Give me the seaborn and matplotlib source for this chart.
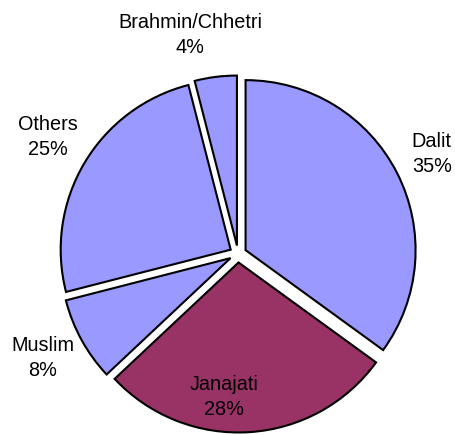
import matplotlib as mpl
mpl.use('Agg')
import matplotlib.pyplot as plt
import seaborn as sns

sns.set_style('white')
plt.rcParams['font.family'] = ['Liberation Sans', 'DejaVu Sans']

groups = ['Dalit', 'Janajati', 'Muslim', 'Others', 'Brahmin/Chhetri']
shares = [35, 28, 8, 25, 4]
colors = ['#9999FF', '#993366', '#9999FF', '#9999FF', '#9999FF']

# label centres, in pie units (radius = 1)
label_xy = [(1.14, 0.59), (-0.08, -0.84), (-1.15, -0.61), (-1.12, 0.69), (-0.28, 1.29)]

fig = plt.figure(figsize=(4.56, 4.34), dpi=100)
ax = fig.add_axes([0, 0, 1, 1])

ax.pie(shares, colors=colors, startangle=90, counterclock=False,
       explode=[0.05] * len(shares),
       wedgeprops={'edgecolor': 'black', 'linewidth': 1.5})

for name, pct, (x, y) in zip(groups, shares, label_xy):
    ax.text(x, y, '%s\n%d%%' % (name, pct), ha='center', va='center',
            fontsize=14.3, linespacing=1.4, color='black')

ax.set_xlim(-238 / 170, (456 - 238) / 170)
ax.set_ylim(-(434 - 254) / 170, 254 / 170)
ax.set_aspect('equal')
ax.set_axis_off()

fig.savefig('out.png', dpi=100)
